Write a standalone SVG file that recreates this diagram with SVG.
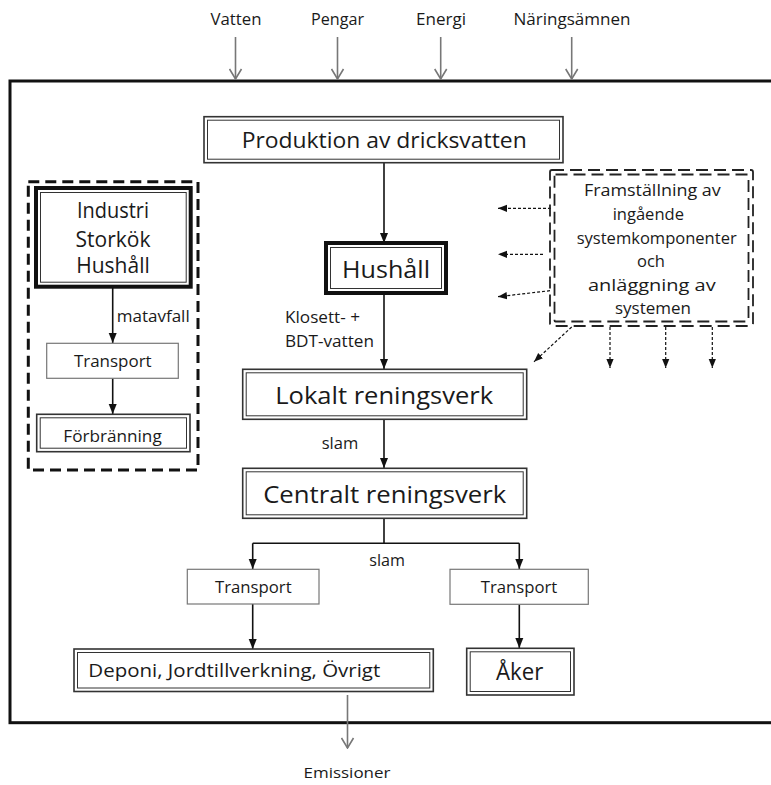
<svg xmlns="http://www.w3.org/2000/svg" width="771" height="785" viewBox="0 0 771 785">
<defs>
<style>
text{font-family:"Open Sans","Noto Sans","DejaVu Sans",sans-serif;fill:#1a1a1a}
.c{text-anchor:middle}
.o{fill:#fff;stroke:#333;stroke-width:1.6}
.i{fill:none;stroke:#333;stroke-width:1}
.ot{fill:#fff;stroke:#111;stroke-width:4}
.thin{fill:#fff;stroke:#777;stroke-width:1.2}
.ln{fill:none;stroke:#111;stroke-width:1.6}
.gl{fill:none;stroke:#777;stroke-width:1.6}
.dl{fill:none;stroke:#111;stroke-width:1.2;stroke-dasharray:3 2}
.dash{fill:none;stroke:#111;stroke-width:3;stroke-dasharray:11 6}
.dash2{fill:none;stroke:#222;stroke-width:1.8;stroke-dasharray:12 6}
</style>
<marker id="ah" markerUnits="userSpaceOnUse" markerWidth="10" markerHeight="10" viewBox="0 0 10 10" refX="10" refY="5" orient="auto"><path d="M0,1 L10,5 L0,9 z" fill="#111"/></marker>
<marker id="ad" markerUnits="userSpaceOnUse" markerWidth="9" markerHeight="9" viewBox="0 0 10 10" refX="10" refY="5" orient="auto"><path d="M0,1 L10,5 L0,9 z" fill="#111"/></marker>
<marker id="av" markerUnits="userSpaceOnUse" markerWidth="12" markerHeight="14" viewBox="0 0 12 14" refX="11" refY="7" orient="auto"><path d="M1,1 L11,7 L1,13" fill="none" stroke="#777" stroke-width="1.6"/></marker>
</defs>

<g id="frame"><rect x="10" y="81" width="780" height="641.7" fill="none" stroke="#111" stroke-width="3"/></g>

<g id="inputs">
<text x="236" y="25" class="c" font-size="16" textLength="51" lengthAdjust="spacingAndGlyphs">Vatten</text>
<text x="337.5" y="25" class="c" font-size="16" textLength="53" lengthAdjust="spacingAndGlyphs">Pengar</text>
<text x="441" y="25" class="c" font-size="16" textLength="50" lengthAdjust="spacingAndGlyphs">Energi</text>
<text x="572" y="25" class="c" font-size="16" textLength="117" lengthAdjust="spacingAndGlyphs">Näringsämnen</text>
</g>

<g id="connectors">
<line class="gl" x1="235.5" y1="37" x2="235.5" y2="79" marker-end="url(#av)"/>
<line class="gl" x1="337.5" y1="37" x2="337.5" y2="79" marker-end="url(#av)"/>
<line class="gl" x1="440.7" y1="37" x2="440.7" y2="79" marker-end="url(#av)"/>
<line class="gl" x1="571.7" y1="37" x2="571.7" y2="79" marker-end="url(#av)"/>
<line class="gl" x1="347.5" y1="695" x2="347.5" y2="748" marker-end="url(#av)"/>

<line class="ln" x1="384" y1="163" x2="384" y2="243" marker-end="url(#ah)"/>
<line class="ln" x1="384" y1="293" x2="384" y2="369" marker-end="url(#ah)"/>
<line class="ln" x1="384" y1="419.5" x2="384" y2="468" marker-end="url(#ah)"/>
<polyline class="ln" points="384,518.5 384,543.3"/>
<polyline class="ln" points="252.7,543.3 519.3,543.3"/>
<line class="ln" x1="252.7" y1="543.3" x2="252.7" y2="569" marker-end="url(#ah)"/>
<line class="ln" x1="519.3" y1="543.3" x2="519.3" y2="569" marker-end="url(#ah)"/>
<line class="ln" x1="252.7" y1="604" x2="252.7" y2="649" marker-end="url(#ah)"/>
<line class="ln" x1="519.3" y1="604.3" x2="519.3" y2="648" marker-end="url(#ah)"/>

<line class="ln" x1="112.7" y1="287" x2="112.7" y2="343" marker-end="url(#ah)"/>
<line class="ln" x1="112.7" y1="378.3" x2="112.7" y2="414" marker-end="url(#ah)"/>

<line class="dl" x1="551" y1="208.3" x2="498" y2="208.3" marker-end="url(#ad)"/>
<line class="dl" x1="543" y1="254.3" x2="498" y2="254.3" marker-end="url(#ad)"/>
<line class="dl" x1="550" y1="290.7" x2="498" y2="296.7" marker-end="url(#ad)"/>
<line class="dl" x1="571.7" y1="327" x2="534" y2="361.7" marker-end="url(#ad)"/>
<line class="dl" x1="610" y1="327" x2="610" y2="368" marker-end="url(#ad)"/>
<line class="dl" x1="665.7" y1="327" x2="665.7" y2="368" marker-end="url(#ad)"/>
<line class="dl" x1="712.3" y1="327" x2="712.3" y2="368" marker-end="url(#ad)"/>
</g>

<g id="labels">
<text x="116.7" y="321.7" font-size="16" textLength="73" lengthAdjust="spacingAndGlyphs">matavfall</text>
<text x="285" y="323.3" font-size="16" textLength="75" lengthAdjust="spacingAndGlyphs">Klosett- +</text>
<text x="285" y="346.7" font-size="16" textLength="89" lengthAdjust="spacingAndGlyphs">BDT-vatten</text>
<text x="321.7" y="449.3" font-size="16" textLength="36.6" lengthAdjust="spacingAndGlyphs">slam</text>
<text x="369.3" y="565.7" font-size="16" textLength="35.7" lengthAdjust="spacingAndGlyphs">slam</text>
<text x="347" y="778" class="c" font-size="15" textLength="87" lengthAdjust="spacingAndGlyphs">Emissioner</text>
</g>

<g id="produktion">
<rect class="o" x="204" y="116.7" width="359" height="46"/>
<rect class="i" x="207.5" y="120.2" width="352" height="39"/>
<text x="384.2" y="148" class="c" font-size="21.5" textLength="285" lengthAdjust="spacingAndGlyphs">Produktion av dricksvatten</text>
</g>

<g id="hushall">
<rect class="ot" x="326" y="243" width="120" height="50"/>
<rect class="i" x="330.5" y="247.5" width="111" height="41"/>
<text x="386" y="278.3" class="c" font-size="24" textLength="88" lengthAdjust="spacingAndGlyphs">Hushåll</text>
</g>

<g id="lokalt">
<rect class="o" x="242.7" y="369.3" width="284" height="50"/>
<rect class="i" x="246.2" y="372.8" width="277" height="43"/>
<text x="384.2" y="404" class="c" font-size="23" textLength="218" lengthAdjust="spacingAndGlyphs">Lokalt reningsverk</text>
</g>

<g id="centralt">
<rect class="o" x="242.7" y="468.3" width="284" height="50"/>
<rect class="i" x="246.2" y="471.8" width="277" height="43"/>
<text x="384.7" y="502.7" class="c" font-size="23" textLength="243" lengthAdjust="spacingAndGlyphs">Centralt reningsverk</text>
</g>

<g id="transport-a">
<rect class="thin" x="187.3" y="569.3" width="131.7" height="34.7"/>
<text x="253.3" y="593.3" class="c" font-size="16" textLength="76.7" lengthAdjust="spacingAndGlyphs">Transport</text>
</g>

<g id="transport-b">
<rect class="thin" x="450" y="569.3" width="138.3" height="35"/>
<text x="519" y="593.3" class="c" font-size="16" textLength="76.6" lengthAdjust="spacingAndGlyphs">Transport</text>
</g>

<g id="deponi">
<rect class="o" x="74" y="649" width="359.3" height="42.5"/>
<rect class="i" x="77.5" y="652.5" width="352.3" height="35.5"/>
<text x="88.3" y="676.7" font-size="19" textLength="292" lengthAdjust="spacingAndGlyphs">Deponi, Jordtillverkning, Övrigt</text>
</g>

<g id="aker">
<rect class="o" x="466.7" y="648.3" width="107.3" height="46.7"/>
<rect class="i" x="470.2" y="651.8" width="100.3" height="39.7"/>
<text x="519.7" y="680" class="c" font-size="24" textLength="47.3" lengthAdjust="spacingAndGlyphs">Åker</text>
</g>

<g id="matavfall-panel">
<rect class="dash" x="28.3" y="181.7" width="169.7" height="288.3"/>
</g>

<g id="industri">
<rect class="ot" x="36" y="188" width="154.7" height="98.7"/>
<rect class="i" x="40.5" y="192.5" width="145.7" height="89.7"/>
<text x="113" y="218" class="c" font-size="21" textLength="72" lengthAdjust="spacingAndGlyphs">Industri</text>
<text x="113" y="246.7" class="c" font-size="21">Storkök</text>
<text x="113" y="273" class="c" font-size="21">Hushåll</text>
</g>

<g id="transport-l">
<rect class="thin" x="46.7" y="343.3" width="131.6" height="35"/>
<text x="112.8" y="367" class="c" font-size="16" textLength="77.7" lengthAdjust="spacingAndGlyphs">Transport</text>
</g>

<g id="forbranning">
<rect class="o" x="36.7" y="414.3" width="153.3" height="37.4"/>
<rect class="i" x="40.2" y="417.8" width="146.3" height="30.4"/>
<text x="112.5" y="441.7" class="c" font-size="17" textLength="98.4" lengthAdjust="spacingAndGlyphs">Förbränning</text>
</g>

<g id="framstallning">
<rect class="dash2" x="550" y="170" width="203" height="156" rx="2"/>
<rect class="dash2" x="554.5" y="174.5" width="194" height="147" rx="1"/>
<text x="652.3" y="196" class="c" font-size="16" textLength="136.7" lengthAdjust="spacingAndGlyphs">Framställning av</text>
<text x="648.3" y="220" class="c" font-size="16" textLength="71.3" lengthAdjust="spacingAndGlyphs">ingående</text>
<text x="656.7" y="243.5" class="c" font-size="16" textLength="160" lengthAdjust="spacingAndGlyphs">systemkomponenter</text>
<text x="651" y="267" class="c" font-size="16" textLength="28" lengthAdjust="spacingAndGlyphs">och</text>
<text x="651.8" y="290.5" class="c" font-size="16" textLength="127.7" lengthAdjust="spacingAndGlyphs">anläggning av</text>
<text x="653" y="314" class="c" font-size="16" textLength="76" lengthAdjust="spacingAndGlyphs">systemen</text>
</g>
</svg>
